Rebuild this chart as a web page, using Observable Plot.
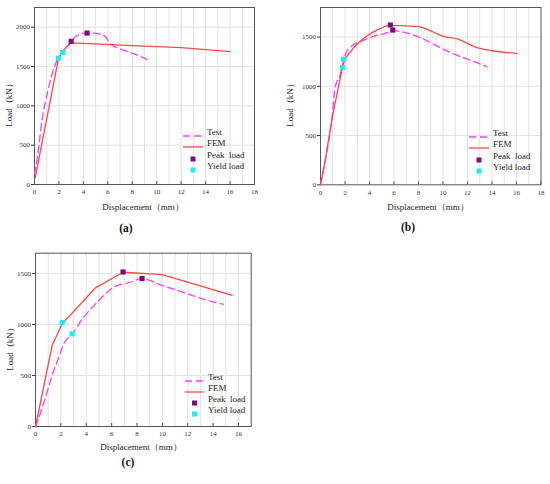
<!DOCTYPE html>
<html><head><meta charset="utf-8">
<script src="https://cdn.jsdelivr.net/npm/d3@7"></script>
<script src="https://cdn.jsdelivr.net/npm/@observablehq/plot@0.6"></script>
<style>
body{margin:0;background:#fff;font-family:"Liberation Serif","Times New Roman",serif;}
#root{position:relative;width:550px;height:484px;overflow:hidden;}
.abs{position:absolute;white-space:pre;color:#222;}
</style>
</head><body><div id="root"></div>
<script>
// ---- data ----
const captions = ["(a)", "(b)", "(c)"];
const seriesNames = ["Test", "FEM", "Peak  load", "Yield load"];
const xLabel = "Displacement（mm）";
const yLabel = "Load（kN）";

const testA = [[0,130],[0.27,385],[0.63,837],[1.04,1154],[1.45,1410],[1.86,1581],[2.3,1680],[3.0,1820],[3.5,1895],[4.3,1928],[5.3,1915],[5.8,1880],[6.2,1795],[7.3,1709],[8.4,1645],[9.2,1590]];
const femA = [[0.05,80],[1.95,1590],[2.35,1700],[2.95,1800],[4.5,1790],[8,1765],[12,1740],[16,1690]];
const peakA = [[3.0,1820],[4.3,1925]];
const yieldA = [[1.95,1605],[2.3,1677]];

const testB = [[0,0],[0.4,255],[0.92,660],[1.2,994],[1.6,1113],[2.0,1316],[2.56,1410],[3.4,1460],[4.2,1503],[5.3,1537],[6.0,1564],[7.2,1537],[8.6,1469],[9.9,1384],[11.6,1293],[12.6,1249],[13.6,1198]];
const femB = [[0,0],[0.38,247],[0.92,654],[1.47,994],[1.88,1232],[2.56,1367],[3.64,1497],[4.6,1570],[5.0,1592],[5.55,1618],[6.5,1617],[8.0,1605],[8.84,1571],[9.9,1513],[11.3,1476],[12.6,1401],[14,1361],[16,1334]];
const peakB = [[5.7,1622],[5.9,1571]];
const yieldB = [[1.88,1275],[1.8,1191]];

const testC = [[0,0],[0.18,59],[0.79,287],[1.31,500],[1.84,679],[2.23,811],[2.89,909],[3.8,1072],[4.86,1219],[6.17,1366],[7.48,1415],[8.4,1451],[9.8,1392],[11.9,1304],[14.0,1222],[14.8,1199]];
const femC = [[0,0],[1.31,794],[2.1,1007],[3.68,1219],[4.72,1360],[6.9,1513],[10.0,1490],[15.5,1287]];
const peakC = [[6.9,1516],[8.4,1451]];
const yieldC = [[2.1,1019],[2.89,909]];

const xTicksAB = [0,2,4,6,8,10,12,14,16,18];
const xTicksC = [0,2,4,6,8,10,12,14,16];
const yTicksA = [0,500,1000,1500,2000];
const yTicksBC = [0,500,1000,1500];

// ---- style ----
const COL = {test:"#ff3cff", fem:"#ff4747", peak:"#7d0a80", yield:"#19eef5", frame:"#555", grid:"#e2e2e2"};
const FONT = "'Liberation Serif','Times New Roman',serif";
const root = document.getElementById("root");

function panel(cfg) {
  const frameH = cfg.height - cfg.mt - cfg.mb;
  const p = Plot.plot({
    width: cfg.width, height: cfg.height,
    marginLeft: cfg.ml, marginRight: cfg.mr, marginTop: cfg.mt, marginBottom: cfg.mb,
    x: {domain: cfg.xDomain}, y: {domain: cfg.yDomain},
    style: {fontFamily: FONT, fontSize: "7px", color: "#333", background: "transparent", overflow: "visible"},
    marks: [
      Plot.gridX(d3.range(1, cfg.xDomain[1]), {stroke: COL.grid, strokeOpacity: 1}),
      Plot.gridY(cfg.yTicks.slice(1), {stroke: COL.grid, strokeOpacity: 1}),
      Plot.frame({stroke: COL.frame, strokeWidth: 1}),
      Plot.axisX({ticks: cfg.xTicks, tickSize: 0, tickPadding: 5, label: null, tickFormat: d3.format("d")}),
      Plot.tickX(cfg.xTicks, {x: d => d, insetTop: frameH - 3, stroke: COL.frame}),
      Plot.axisY({ticks: cfg.yTicks, tickSize: 3, tickPadding: 1.5, label: null, tickFormat: d3.format("d")}),
      Plot.line(cfg.test, {x: d => d[0], y: d => d[1], stroke: COL.test, strokeWidth: 1.3, strokeDasharray: "7,4", curve: "monotone-x"}),
      Plot.line(cfg.fem, {x: d => d[0], y: d => d[1], stroke: COL.fem, strokeWidth: 1.3, curve: cfg.femCurve}),
      Plot.dot(cfg.peak, {x: d => d[0], y: d => d[1], symbol: "square", fill: COL.peak, r: 2.9}),
      Plot.dot(cfg.yld, {x: d => d[0], y: d => d[1], symbol: "square", fill: COL.yield, r: 2.9})
    ]
  });
  p.style.position = "absolute";
  p.style.left = cfg.left + "px";
  p.style.top = cfg.top + "px";
  root.appendChild(p);

  // axis titles
  const xl = document.createElement("div");
  xl.className = "abs"; xl.textContent = xLabel;
  xl.style.cssText += `left:${cfg.xl[0]}px;top:${cfg.xl[1]}px;transform:translate(-50%,-50%);font-size:9px;`;
  root.appendChild(xl);
  const yl = document.createElement("div");
  yl.className = "abs"; yl.textContent = yLabel;
  yl.style.cssText += `left:${cfg.yl[0]}px;top:${cfg.yl[1]}px;transform:translate(-50%,-50%) rotate(-90deg);font-size:9px;`;
  root.appendChild(yl);
  const cap = document.createElement("div");
  cap.className = "abs"; cap.textContent = cfg.caption;
  cap.style.cssText += `left:${cfg.cap[0]}px;top:${cfg.cap[1]}px;transform:translate(-50%,-50%);font-size:11.5px;font-weight:bold;color:#111;`;
  root.appendChild(cap);

  // legend
  const [lx, tx, y0, dy] = cfg.legend;
  seriesNames.forEach((name, i) => {
    const y = y0 + i * dy;
    const w = tx - lx - 4;
    let sym = "";
    if (i === 0) sym = `<line x1="0" x2="${w}" y1="5" y2="5" stroke="${COL.test}" stroke-width="1.3" stroke-dasharray="7,4"/>`;
    if (i === 1) sym = `<line x1="0" x2="${w}" y1="5" y2="5" stroke="${COL.fem}" stroke-width="1.3"/>`;
    if (i === 2) sym = `<rect x="${w/2-2.5}" y="2.5" width="5" height="5" fill="${COL.peak}"/>`;
    if (i === 3) sym = `<rect x="${w/2-2.5}" y="2.5" width="5" height="5" fill="${COL.yield}"/>`;
    const s = document.createElement("div");
    s.className = "abs";
    s.style.cssText += `left:${lx}px;top:${y-5}px;width:${w}px;height:10px;`;
    s.innerHTML = `<svg width="${w}" height="10">${sym}</svg>`;
    root.appendChild(s);
    const t = document.createElement("div");
    t.className = "abs"; t.textContent = name;
    t.style.cssText += `left:${tx}px;top:${y}px;transform:translateY(-50%);font-size:9px;line-height:10px;`;
    root.appendChild(t);
  });
}

panel({left: 0, top: 0, width: 270, height: 200, ml: 34, mr: 16, mt: 7, mb: 16,
  xDomain: [0, 18], yDomain: [0, 2250], xTicks: xTicksAB, yTicks: yTicksA,
  test: testA, fem: femA, peak: peakA, yld: yieldA, femCurve: "linear",
  xl: [143, 207], yl: [8.5, 103], cap: [126, 228], caption: captions[0], legend: [183, 207, 132, 11.3]});

panel({left: 280, top: 0, width: 270, height: 200, ml: 40, mr: 9.5, mt: 7, mb: 15.7,
  xDomain: [0, 18], yDomain: [0, 1800], xTicks: xTicksAB, yTicks: yTicksBC,
  test: testB, fem: femB, peak: peakB, yld: yieldB, femCurve: "monotone-x",
  xl: [428, 207], yl: [290, 103], cap: [408, 227], caption: captions[1], legend: [469, 493, 133, 11.3]});

panel({left: 0, top: 245, width: 270, height: 197, ml: 35, mr: 19.3, mt: 7.7, mb: 16,
  xDomain: [0, 17], yDomain: [0, 1700], xTicks: xTicksC, yTicks: yTicksBC,
  test: testC, fem: femC, peak: peakC, yld: yieldC, femCurve: "linear",
  xl: [141, 447], yl: [10, 347], cap: [128, 462], caption: captions[2], legend: [185, 208, 376.7, 11.1]});
</script>
</body></html>
